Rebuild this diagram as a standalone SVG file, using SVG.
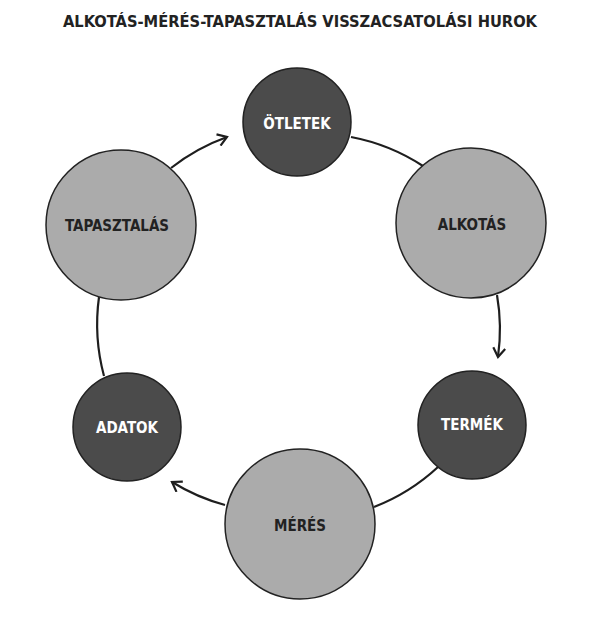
<svg xmlns="http://www.w3.org/2000/svg" width="600" height="626" viewBox="0 0 600 626">
<style>
.t{font-family:"DejaVu Sans Condensed","DejaVu Sans",sans-serif;font-weight:bold;text-anchor:middle;dominant-baseline:central}
.dark{fill:#4b4b4b;stroke:#222;stroke-width:1.5}
.light{fill:#ababab;stroke:#222;stroke-width:1.5}
.c{fill:none;stroke:#1e1e1e;stroke-width:2.2}
</style>
<defs>
<marker id="ah" markerWidth="14" markerHeight="14" refX="11" refY="7" orient="auto" markerUnits="userSpaceOnUse">
<path d="M2,1 L11,7 L2,13" fill="none" stroke="#1e1e1e" stroke-width="2.2"/>
</marker>
</defs>
<rect width="600" height="626" fill="#fff"/>
<text class="t" x="300" y="22" font-size="15" fill="#222" textLength="474" lengthAdjust="spacingAndGlyphs">ALKOTÁS-MÉRÉS-TAPASZTALÁS VISSZACSATOLÁSI HUROK</text>
<g id="connectors">
<path class="c" d="M351,137 A200,200 0 0,1 423,166"/>
<path class="c" d="M497,295 A200,200 0 0,1 498,357" marker-end="url(#ah)"/>
<path class="c" d="M438,467 A200,200 0 0,1 374,507"/>
<path class="c" d="M225,505 A200,200 0 0,1 172,482" marker-end="url(#ah)"/>
<path class="c" d="M104,376 A200,200 0 0,1 99,297"/>
<path class="c" d="M171,168 A200,200 0 0,1 227,137" marker-end="url(#ah)"/>
</g>
<g id="otletek"><circle class="dark" cx="297" cy="122" r="54"/><text class="t" x="297" y="124" font-size="15" fill="#fff">ÖTLETEK</text></g>
<g id="alkotas"><circle class="light" cx="471" cy="223" r="75"/><text class="t" x="472" y="225" font-size="15" fill="#222">ALKOTÁS</text></g>
<g id="termek"><circle class="dark" cx="472" cy="425" r="54"/><text class="t" x="472" y="425" font-size="15" fill="#fff">TERMÉK</text></g>
<g id="meres"><circle class="light" cx="300" cy="524" r="75"/><text class="t" x="300" y="526" font-size="15" fill="#222">MÉRÉS</text></g>
<g id="adatok"><circle class="dark" cx="127" cy="427" r="54"/><text class="t" x="127" y="428" font-size="15" fill="#fff">ADATOK</text></g>
<g id="tapasztalas"><circle class="light" cx="121" cy="225" r="75"/><text class="t" x="117" y="226" font-size="15" fill="#222">TAPASZTALÁS</text></g>
</svg>
